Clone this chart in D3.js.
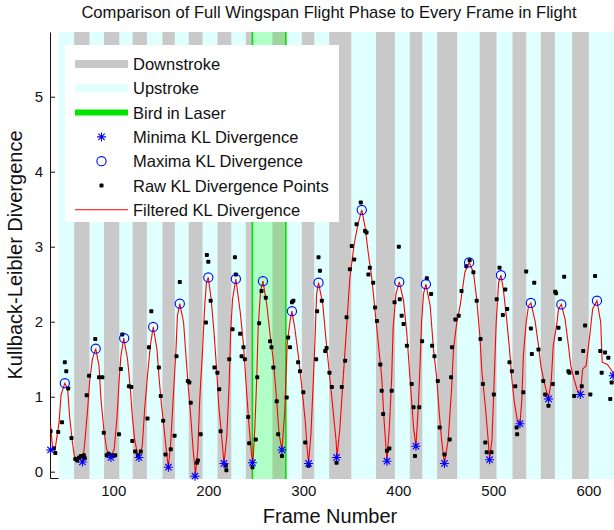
<!DOCTYPE html>
<html lang="en">
  <head>
    <meta charset="utf-8">
    <title>KL Divergence per Frame</title>
    <script src="https://d3js.org/d3.v7.min.js"></script>
    <style>
      body { margin: 0; background: #fff; }
      svg { display: block; font-family: "Liberation Sans", Arial, sans-serif; }
      .axis path, .axis line { stroke: #111; }
      .axis text { font-size: 15px; fill: #111; font-family: "Liberation Sans", Arial, sans-serif; }
    </style>
  </head>
  <body>
    <svg id="chart" width="614" height="530"></svg>
    <script>
// ---- data ----
var xTicks = [100, 200, 300, 400, 500, 600];
var yTicks = [0, 1, 2, 3, 4, 5];

var flightStart = 42.3;
var downStart = [58.8, 90.2, 120.4, 151.8, 179.4, 209.7, 239.5, 267.5, 298.4, 327.2, 376.5, 412.1, 440.8, 485.6, 520.1, 549.9, 582.8];
var downEnd   = [74.9, 106.3, 135.4, 164.8, 193.9, 224.2, 246.4, 281.6, 311.5, 350.5, 396.4, 425.2, 461.9, 503.3, 534.6, 564.8, 600.4];
var laserFrames = [246.4, 281.6];

var filtFrame = [34, 36, 39, 43, 45, 49, 52, 54, 57, 59, 62, 66, 68, 70, 73, 75, 78, 81.5, 85, 87, 90, 93, 97,
  101, 104, 106, 108, 111, 115, 118, 120, 122.5, 125, 127, 130.5, 133, 136, 139, 142, 146, 148, 150.5, 153.5,
  156, 158, 160.5, 163, 166, 167.5, 170, 174, 176, 178.5, 181.5, 184, 186.5, 189, 191, 194, 196, 198, 200,
  203, 206, 209, 211, 214, 216.5, 219.5, 222, 223.5, 225.5, 229, 233.5, 237, 240.5, 243, 245.5, 247, 249,
  251, 252.5, 255, 257.5, 261.5, 265, 268.5, 272, 274.5, 277.5, 280.5, 283, 286, 288, 291, 294.5, 298.5,
  302, 304, 305.5, 308, 310.5, 312.5, 314, 316, 320.5, 324, 327.5, 331, 334.5, 335.5, 338.5, 342, 345.5,
  349, 353.5, 357.5, 361.5, 365, 368.5, 372, 375.5, 379, 382.5, 385, 388, 390.5, 393, 394.5, 397.5, 401,
  405.5, 409, 412.5, 416, 418.5, 421, 423, 424.5, 426.5, 429, 433.5, 437, 440.5, 443, 445.5, 448.5, 452.5,
  456, 458, 461.5, 465, 470, 474.5, 479, 482.5, 486, 488, 491.5, 494.5, 496, 498.5, 500.5, 503, 505.5, 508,
  510.5, 514, 517, 519.5, 522, 525, 528, 530, 531.5, 534.5, 537, 539.5, 544, 547.5, 550, 553.5, 558, 561,
  563, 567, 568.5, 571.5, 575.5, 579, 581.5, 585, 588, 591.5, 594, 597.5, 601, 604.5, 609, 613, 614.5, 620,
  625, 628];
var filtKL = [0.62, 0.34, 0.32, 0.66, 1.02, 1.18, 1.10, 0.74, 0.39, 0.21, 0.17, 0.19, 0.15, 0.39, 0.83, 1.19,
  1.50, 1.64, 1.41, 0.97, 0.57, 0.30, 0.19,
  0.30, 0.74, 1.19, 1.54, 1.78, 1.50, 1.10, 0.74, 0.43, 0.26, 0.19, 0.34, 0.83, 1.28, 1.68, 1.93, 1.63, 1.28,
  0.92, 0.57,
  0.26, 0.06, 0.39, 0.97, 1.63, 2.08, 2.24, 1.99, 1.63, 1.19, 0.74, 0.30, -0.04, 0.30, 0.97, 1.63, 2.17, 2.52,
  2.59,
  2.30, 1.86, 1.32, 0.88, 0.48, 0.11, 0.48, 1.19, 1.86, 2.30, 2.57, 2.14, 1.70, 1.03, 0.59, 0.23, 0.12, 0.59,
  1.26, 1.93, 2.41, 2.54, 2.23, 1.83, 1.48, 0.94, 0.50, 0.29, 0.81, 1.70, 2.01, 2.14, 1.92, 1.57, 1.12,
  0.68, 0.32, 0.11, 0.50, 1.21, 1.83, 2.37, 2.52, 2.23, 1.74, 1.30, 0.86, 0.41, 0.19, 0.59, 1.26, 1.92,
  2.59, 3.03, 3.30, 3.49, 3.26, 2.90, 2.59, 2.14, 1.70, 1.26, 0.68, 0.14, 0.59, 1.26, 1.92, 2.37, 2.53,
  2.28, 1.83, 1.21, 0.59, 0.34, 0.86, 1.48, 2.01, 2.37, 2.50, 2.21, 1.63, 1.23, 0.79, 0.43, 0.11, 0.43,
  1.10, 1.63, 1.99, 2.21, 2.66, 2.79, 2.66, 2.30, 1.77, 1.32, 0.88, 0.43, 0.16, 0.43, 1.10, 2.00, 2.52, 2.62,
  2.43, 2.03, 1.63, 1.23, 0.93, 0.70, 0.64, 0.97, 1.54, 1.99, 2.21, 2.25, 2.00, 1.68, 1.41, 1.19, 0.97, 1.23,
  1.68, 1.99, 2.17, 2.23, 2.03, 1.68, 1.41, 1.23, 1.10, 1.03, 1.37, 1.41, 1.77, 2.17, 2.28, 1.99, 1.46, 1.43,
  1.34, 1.28];

var rawFrame = [34, 37.5, 39, 42, 46, 49, 50.5, 52.5, 56, 60, 62, 64, 66, 69, 70, 72, 74.5, 81, 85, 88.5, 90,
  93, 95, 99, 102, 106, 108, 109.5, 116.5, 119, 120, 123, 126, 129, 136, 137.5, 140, 148, 150, 152.5, 155,
  160.5, 164.5, 166.5, 170, 178.5, 180, 181.5, 188, 189, 192, 197.5, 198.5, 200, 202.5, 206.5, 209.5, 211.5,
  213, 218.5, 219, 222, 225.5, 228, 229, 233.5, 235, 237, 238.5, 242, 243, 246.5, 250, 251.5, 253.5, 256,
  260.5, 265, 266.5, 268.5, 272, 273.5, 277.5, 282.5, 284, 286, 288, 289.5, 294.5, 296.5, 300, 302, 305.5,
  313.5, 314.5, 316, 317.5, 319.5, 323, 324.5, 327.5, 330, 335, 340.5, 344, 345.5, 349, 351, 353.5, 356,
  360.5, 365, 366.5, 368.5, 370, 373.5, 375.5, 377.5, 381, 382.5, 384, 388, 390.5, 393, 396, 400.5, 401.5,
  403.5, 405.5, 409, 414, 416, 417.5, 422, 425, 430, 434.5, 435.5, 438, 441.5, 443.5, 448.5, 454, 455.5,
  456.5, 460, 463.5, 466.5, 471.5, 475, 479, 482.5, 486.5, 489, 491.5, 493, 498, 500.5, 503.5, 506.5, 510,
  512.5, 514.5, 517, 519.5, 523, 524.5, 525, 531.5, 534.5, 539.5, 540.5, 543, 547.5, 552.5, 554.5, 558,
  562.5, 565, 566, 568.5, 570, 574.5, 579, 580, 585, 588, 593, 594.5, 596.5, 602, 607, 612.5, 614, 617.5,
  621, 623, 624.5];
var rawKL = [0.54, 0.31, 0.25, 0.53, 0.66, 1.46, 1.34, 1.11, 0.45, 0.17, 0.15, 0.19, 0.21, 0.22, 0.18, 1.02,
  1.28, 1.77, 1.26, 1.26, 0.52,
  0.22, 0.24, 0.22, 0.22, 0.50, 1.37, 1.83, 1.14, 1.13, 0.41, 0.27, 0.22, 0.27, 0.71, 1.66, 2.14, 1.39, 1.01,
  0.68, 0.23,
  0.30, 0.48, 1.54, 2.53, 1.21, 1.19, 0.92, 0.12, 0.15, 0.50, 1.99, 2.89, 2.80, 2.28, 1.39, 1.32, 1.10,
  0.54, 0.08, 0.02, 1.50, 1.90, 2.86, 2.63, 1.84, 1.54, 1.66, 1.50, 0.73, 0.38, 0.06, 0.43, 1.26, 1.98, 2.41,
  2.32, 1.74, 1.66, 1.39, 0.94, 0.50, 0.21, 0.99, 1.79, 1.66, 2.26, 2.28, 1.46, 1.34, 1.06, 0.39, 0.08,
  1.50, 2.14, 2.86, 2.68, 2.28, 1.61, 1.65, 1.32, 1.13, 0.12, 1.13, 1.48, 2.06, 2.70, 3.01, 2.83, 3.30,
  3.59, 3.21, 3.19, 2.63, 2.72, 2.52, 2.19, 2.01, 1.43, 1.08, 0.77, 0.28, 0.31, 1.08, 2.26, 3.00, 2.30,
  2.08, 1.97, 1.68, 1.17, 0.86, 0.21, 0.86, 1.74, 2.58, 2.37, 1.68, 1.54, 1.21, 0.59, 0.23, 0.43, 1.26,
  1.66, 2.03, 2.08, 2.41, 2.74, 2.82, 2.66, 2.28, 1.77, 1.17, 0.39, 0.26, 0.26, 1.03, 2.30, 2.72, 2.09,
  2.43, 2.17, 1.46, 1.34, 1.14, 0.59, 0.50, 1.06, 2.67, 1.91, 1.57, 2.52, 1.63, 1.21, 1.03, 0.88,
  1.17, 2.40, 2.38, 1.92, 1.77, 2.60, 1.34, 1.32, 1.01, 1.32, 1.14, 1.61, 1.95, 1.03, 2.61, 1.61, 1.32, 1.59,
  1.52, 0.97, 1.19];

var minFrame = [34, 67.5, 97.5, 127, 158, 186, 216.5, 246.5, 277.5, 305.5, 335, 388, 418.5, 448.5, 496, 528, 558, 591.5, 626];
var minKL    = [0.29, 0.13, 0.19, 0.19, 0.06, -0.06, 0.11, 0.12, 0.29, 0.11, 0.19, 0.14, 0.34, 0.11, 0.16, 0.64, 0.97, 1.03, 1.28];
var maxFrame = [49, 81.5, 111.5, 142, 170, 200, 229, 257.5, 288, 316, 361.5, 401, 429, 474.5, 508, 539.5, 571.5, 609];
var maxKL    = [1.18, 1.64, 1.78, 1.93, 2.24, 2.59, 2.57, 2.54, 2.14, 2.52, 3.49, 2.53, 2.50, 2.79, 2.62, 2.25, 2.23, 2.28];

var legendLabels = ["Downstroke", "Upstroke", "Bird in Laser", "Minima KL Divergence",
  "Maxima KL Divergence", "Raw KL Divergence Points", "Filtered KL Divergence"];

// ---- chart ----
var svg = d3.select("#chart");

var x = d3.scaleLinear().domain([33.4, 630]).range([50, 616.9]),
    y = d3.scaleLinear().domain([-0.084, 5.863]).range([478, 32]);

var plotTop = y.range()[1], plotBottom = y.range()[0];

svg.append("defs").append("clipPath").attr("id", "plotclip")
  .append("rect")
    .attr("x", x.range()[0]).attr("y", plotTop)
    .attr("width", x.range()[1] - x.range()[0]).attr("height", plotBottom - plotTop + 1);

// axes first: the stroke patches cover them where they overlap
svg.append("g")
    .attr("class", "axis")
    .attr("transform", "translate(0," + plotBottom + ")")
    .call(d3.axisBottom(x).tickValues(xTicks).tickFormat(d3.format("d")).tickSize(-5).tickSizeOuter(0).tickPadding(7));

svg.append("g")
    .attr("class", "axis")
    .attr("transform", "translate(" + x.range()[0] + ",0)")
    .call(d3.axisLeft(y).tickValues(yTicks).tickFormat(d3.format("d")).tickSize(-5).tickSizeOuter(0).tickPadding(7));

var plot = svg.append("g").attr("clip-path", "url(#plotclip)");

// upstroke background over the whole flight, downstroke bands on top
plot.append("rect")
    .attr("x", x(flightStart))
    .attr("y", plotTop)
    .attr("width", x.range()[1] - x(flightStart) + 10)
    .attr("height", plotBottom - plotTop + 1)
    .attr("fill", "#e0ffff");

plot.selectAll(".down")
  .data(downStart)
  .enter().append("rect")
    .attr("class", "down")
    .attr("x", function(d) { return x(d); })
    .attr("y", plotTop)
    .attr("width", function(d, i) { return x(downEnd[i]) - x(d); })
    .attr("height", plotBottom - plotTop + 1)
    .attr("fill", "#c9c9c9");

plot.append("rect")
    .attr("x", x(laserFrames[0]))
    .attr("y", plotTop)
    .attr("width", x(laserFrames[1]) - x(laserFrames[0]))
    .attr("height", plotBottom - plotTop + 1)
    .attr("fill", "#00ff00")
    .attr("fill-opacity", 0.22);

plot.selectAll(".laser")
  .data(laserFrames)
  .enter().append("line")
    .attr("class", "laser")
    .attr("x1", function(d) { return x(d); })
    .attr("x2", function(d) { return x(d); })
    .attr("y1", plotTop).attr("y2", plotBottom + 1)
    .attr("stroke", "#00dd00")
    .attr("stroke-width", 1.6);

var line = d3.line()
    .x(function(d) { return x(d[0]); })
    .y(function(d) { return y(d[1]); });

plot.append("path")
    .datum(d3.zip(filtFrame, filtKL))
    .attr("d", line)
    .attr("fill", "none")
    .attr("stroke", "#ff0000")
    .attr("stroke-width", 1.1);

plot.selectAll(".raw")
  .data(d3.zip(rawFrame, rawKL))
  .enter().append("rect")
    .attr("class", "raw")
    .attr("x", function(d) { return x(d[0]) - 2; })
    .attr("y", function(d) { return y(d[1]) - 2; })
    .attr("width", 4).attr("height", 4)
    .attr("rx", 0.9)
    .attr("fill", "#000");

var starPath = "M-4.5,0H4.5M0,-4.5V4.5M-3.2,-3.2L3.2,3.2M-3.2,3.2L3.2,-3.2";

svg.selectAll(".minima")
  .data(d3.zip(minFrame, minKL))
  .enter().append("path")
    .attr("class", "minima")
    .attr("transform", function(d) { return "translate(" + x(d[0]) + "," + y(d[1]) + ")"; })
    .attr("d", starPath)
    .attr("stroke", "#0000ff")
    .attr("stroke-width", 1.1)
    .attr("fill", "none");

plot.selectAll(".maxima")
  .data(d3.zip(maxFrame, maxKL))
  .enter().append("circle")
    .attr("class", "maxima")
    .attr("cx", function(d) { return x(d[0]); })
    .attr("cy", function(d) { return y(d[1]); })
    .attr("r", 4.6)
    .attr("stroke", "#0000ff")
    .attr("stroke-width", 1.1)
    .attr("fill", "none");

// ---- legend ----
var legend = svg.append("g");
legend.append("rect")
    .attr("x", 65).attr("y", 45)
    .attr("width", 274).attr("height", 177)
    .attr("fill", "#fff");

var rowY = function(i) { return 64 + i * 24.3; };

var swatch = [
  {stroke: "#c9c9c9", w: 8},
  {stroke: "#e0ffff", w: 8},
  {stroke: "#00e600", w: 6}
];
swatch.forEach(function(s, i) {
  legend.append("line")
      .attr("x1", 75).attr("x2", 128)
      .attr("y1", rowY(i)).attr("y2", rowY(i))
      .attr("stroke", s.stroke).attr("stroke-width", s.w);
});
legend.append("path")
    .attr("transform", "translate(101.5," + rowY(3) + ")")
    .attr("d", starPath)
    .attr("stroke", "#0000ff").attr("stroke-width", 1.1).attr("fill", "none");
legend.append("circle")
    .attr("cx", 101.5).attr("cy", rowY(4)).attr("r", 4.6)
    .attr("stroke", "#0000ff").attr("stroke-width", 1.1).attr("fill", "none");
legend.append("rect")
    .attr("x", 99.5).attr("y", rowY(5) - 2)
    .attr("width", 4).attr("height", 4).attr("rx", 0.9)
    .attr("fill", "#000");
legend.append("line")
    .attr("x1", 75).attr("x2", 128)
    .attr("y1", rowY(6)).attr("y2", rowY(6))
    .attr("stroke", "#ff0000").attr("stroke-width", 1.1);

legend.selectAll(".ltext")
  .data(legendLabels)
  .enter().append("text")
    .attr("class", "ltext")
    .attr("x", 133)
    .attr("y", function(d, i) { return rowY(i) + 6; })
    .attr("font-size", "16.5px")
    .attr("fill", "#111")
    .text(function(d) { return d; });

// ---- titles ----
svg.append("text")
    .attr("x", 329).attr("y", 18)
    .attr("text-anchor", "middle")
    .attr("font-size", "16.6px")
    .attr("fill", "#111")
    .text("Comparison of Full Wingspan Flight Phase to Every Frame in Flight");

svg.append("text")
    .attr("x", 330).attr("y", 523)
    .attr("text-anchor", "middle")
    .attr("font-size", "20px")
    .attr("fill", "#111")
    .text("Frame Number");

svg.append("text")
    .attr("transform", "translate(22,255) rotate(-90)")
    .attr("text-anchor", "middle")
    .attr("font-size", "20px")
    .attr("fill", "#111")
    .text("Kullback-Leibler Divergence");
    </script>
  </body>
</html>
